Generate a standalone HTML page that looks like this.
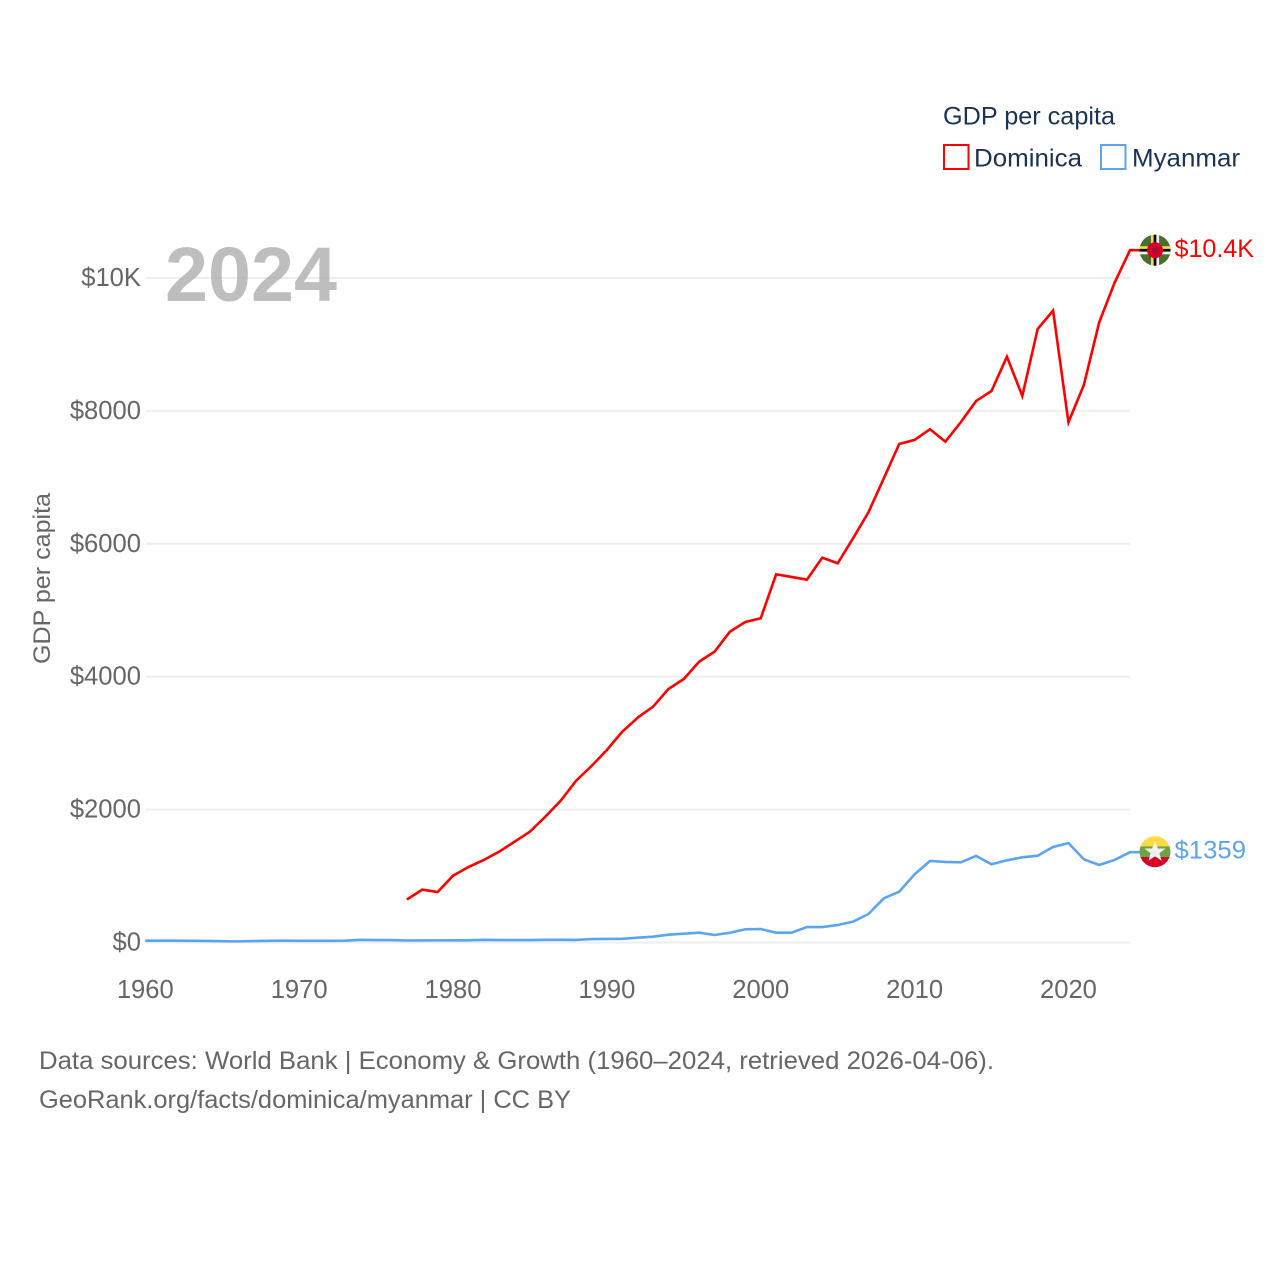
<!DOCTYPE html>
<html lang="en">
<head>
<meta charset="utf-8">
<title>GDP per capita: Dominica and Myanmar</title>
<style>
html,body{margin:0;padding:0;background:#fff;}
svg{display:block;}
text{font-family:"Liberation Sans",sans-serif;}
</style>
</head>
<body>
<svg id="chart" xmlns="http://www.w3.org/2000/svg" width="1280" height="1280" viewBox="0 0 1280 1280">
  <rect width="1280" height="1280" fill="#fff"/>
  <g id="grid"></g>
  <text x="165" y="301" font-size="77" font-weight="700" fill="#a8a8a8" fill-opacity="0.75" textLength="172" lengthAdjust="spacingAndGlyphs">2024</text>
  <g id="yticks"></g>
  <g id="xticks"></g>
  <text transform="translate(50,578.5) rotate(-90)" text-anchor="middle" font-size="24" fill="#666" textLength="171" lengthAdjust="spacingAndGlyphs">GDP per capita</text>
  <g id="series"></g>

  <defs>
    <clipPath id="flag-clip"><circle cx="0" cy="0" r="15.5"/></clipPath>
  </defs>
  <g id="flag-dominica" clip-path="url(#flag-clip)">
    <rect x="-16" y="-16" width="32" height="32" fill="#496e2d"/>
    <rect x="-4" y="-16" width="2.7" height="32" fill="#ffda44"/>
    <rect x="-1.3" y="-16" width="2.7" height="32" fill="#000"/>
    <rect x="1.4" y="-16" width="2.7" height="32" fill="#f0f0f0"/>
    <rect x="-16" y="-4" width="32" height="2.7" fill="#ffda44"/>
    <rect x="-16" y="-1.3" width="32" height="2.7" fill="#000"/>
    <rect x="-16" y="1.4" width="32" height="2.7" fill="#f0f0f0"/>
    <circle r="8" fill="#d80027"/>
    <circle r="3.5" fill="#a2103a"/>
  </g>
  <g id="flag-myanmar" clip-path="url(#flag-clip)">
    <rect x="-16" y="-16" width="32" height="11" fill="#ffda44"/>
    <rect x="-16" y="-5.3" width="32" height="11" fill="#6da544"/>
    <rect x="-16" y="5.3" width="32" height="11" fill="#d80027"/>
    <polygon points="0,-10.5 2.9,-3.2 10.5,-3.2 4.4,1.5 6.6,9 0,4.6 -6.6,9 -4.4,1.5 -10.5,-3.2 -2.9,-3.2" fill="#f0f0f0"/>
  </g>
  <text id="label-dominica" x="1174.5" font-size="25" fill="#ff0000" textLength="79.5" lengthAdjust="spacingAndGlyphs"></text>
  <text id="label-myanmar" x="1174.5" font-size="25" fill="#5ba4ee" textLength="71.5" lengthAdjust="spacingAndGlyphs"></text>

  <g>
    <text x="943" y="124.5" font-size="25" fill="#1a3353" textLength="172" lengthAdjust="spacingAndGlyphs">GDP per capita</text>
    <g>
      <rect x="944" y="145" width="24.5" height="24" fill="none" stroke="#ff0000" stroke-width="2"/>
      <text x="974" y="166.5" font-size="25" fill="#1a3353" textLength="108" lengthAdjust="spacingAndGlyphs">Dominica</text>
    </g>
    <g>
      <rect x="1101" y="145" width="24.5" height="24" fill="none" stroke="#5ba4ee" stroke-width="2"/>
      <text x="1132" y="166.5" font-size="25" fill="#1a3353" textLength="108" lengthAdjust="spacingAndGlyphs">Myanmar</text>
    </g>
  </g>

  <text x="39" y="1069" font-size="25" fill="#666" textLength="955" lengthAdjust="spacingAndGlyphs">Data sources: World Bank | Economy &amp; Growth (1960–2024, retrieved 2026-04-06).</text>
  <text x="39" y="1108" font-size="25" fill="#666" textLength="532" lengthAdjust="spacingAndGlyphs">GeoRank.org/facts/dominica/myanmar | CC BY</text>
</svg>
<script>
const dominicaStartYear = 1977;
const dominicaValues = [647,795,760,1005,1136,1242,1367,1517,1668,1893,2134,2435,2656,2897,3173,3383,3549,3815,3966,4226,4377,4678,4824,4879,5541,5501,5460,5791,5707,6083,6475,6986,7502,7563,7724,7537,7829,8150,8300,8816,8225,9233,9509,7829,8390,9334,9930,10418];
const myanmarStartYear = 1960;
const myanmarValues = [27,27,28,25,24,20,17,22,26,27,26,26,26,28,40,37,37,30,31,32,33,33,40,37,36,37,40,40,39,52,53,55,72,87,117,132,147,113,147,199,203,147,147,233,233,263,313,429,665,765,1026,1227,1212,1207,1302,1177,1237,1282,1306,1437,1497,1252,1166,1242,1359];
const yTickValues = [0,2000,4000,6000,8000,10000];
const yTickLabels = ["$0","$2000","$4000","$6000","$8000","$10K"];
const xTickYears = [1960,1970,1980,1990,2000,2010,2020];
const dominicaEndLabel = "$10.4K";
const myanmarEndLabel = "$1359";

const NS = "http://www.w3.org/2000/svg";
const xScale = y => 145.3 + (y - 1960) * (1130 - 145.3) / 64;
const yScale = v => 942.5 - v * (942.5 - 278) / 10000;

function make(tag, attrs, parent, text) {
  const el = document.createElementNS(NS, tag);
  for (const k in attrs) el.setAttribute(k, attrs[k]);
  if (text !== undefined) el.textContent = text;
  parent.appendChild(el);
  return el;
}

const gridG = document.getElementById("grid");
const yG = document.getElementById("yticks");
yTickValues.forEach((v, i) => {
  const line = make("line", {x1: 146, x2: 1130, y1: yScale(v), y2: yScale(v), stroke: "#eeeeee", "stroke-width": 2}, gridG);
  
  
  const t = make("text", {x: 141, y: yScale(v) + 8, "text-anchor": "end", "font-size": 25.6, fill: "#666"}, yG, yTickLabels[i]);
  
  
});

const xG = document.getElementById("xticks");
xTickYears.forEach(y => {
  const t = make("text", {x: xScale(y), y: 998, "text-anchor": "middle", "font-size": 25.6, fill: "#666"}, xG, String(y));
  
  
});

const CONNECTOR_X = 1141;
function linePoints(startYear, values) {
  const pts = values.map((v, i) => xScale(startYear + i).toFixed(2) + "," + yScale(v).toFixed(2));
  pts.push(CONNECTOR_X + "," + yScale(values[values.length - 1]).toFixed(2));
  return pts.join(" ");
}
const seriesG = document.getElementById("series");
const lineDominica = make("polyline", {points: linePoints(dominicaStartYear, dominicaValues), fill: "none", stroke: "#ff0000", "stroke-width": 2.6, "stroke-linejoin": "miter"}, seriesG);


const lineMyanmar = make("polyline", {points: linePoints(myanmarStartYear, myanmarValues), fill: "none", stroke: "#5ba4ee", "stroke-width": 2.6, "stroke-linejoin": "miter"}, seriesG);



const lastDominicaY = yScale(dominicaValues[dominicaValues.length - 1]);
const lastMyanmarY = yScale(myanmarValues[myanmarValues.length - 1]);
document.getElementById("flag-dominica").setAttribute("transform", "translate(1155," + lastDominicaY + ")");
document.getElementById("flag-myanmar").setAttribute("transform", "translate(1155," + (lastMyanmarY - 0.5) + ")");
const labelDominica = document.getElementById("label-dominica");
labelDominica.setAttribute("y", lastDominicaY + 7);
labelDominica.textContent = dominicaEndLabel;
const labelMyanmar = document.getElementById("label-myanmar");
labelMyanmar.setAttribute("y", lastMyanmarY + 6.5);
labelMyanmar.textContent = myanmarEndLabel;
</script>
</body>
</html>
